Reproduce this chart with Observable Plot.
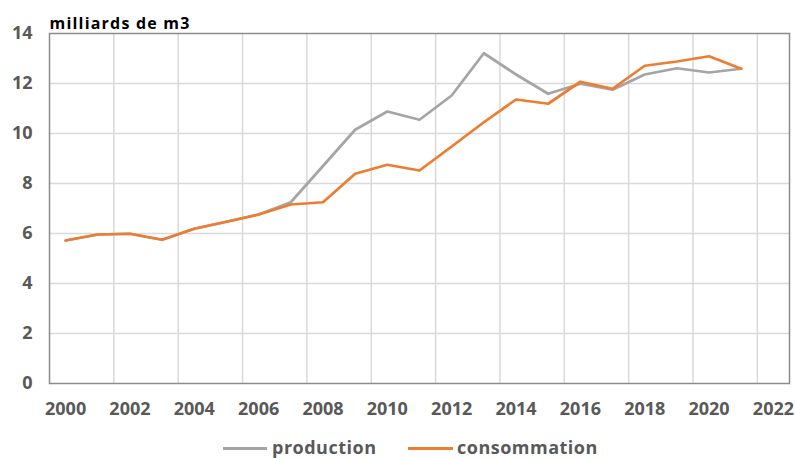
<!DOCTYPE html>
<html>
<head>
<meta charset="utf-8">
<script src="https://cdn.jsdelivr.net/npm/d3@7"></script>
<script src="https://cdn.jsdelivr.net/npm/@observablehq/plot@0.6"></script>
<style>
  html, body { margin: 0; padding: 0; background: #fff; }
  #wrap { position: relative; width: 795px; height: 458px; font-family: "Open Sans", sans-serif; }
  .sw { position: absolute; height: 3px; }
  .lt { position: absolute; font-size: 18px; font-weight: 700; letter-spacing: 0.5px; color: #595959; line-height: 20px; }
</style>
</head>
<body>
<div id="wrap">
  <div id="chart"></div>
  <div class="sw" style="left:223px; top:447px; width:44px; background:#A5A5A5;"></div>
  <div class="lt" style="left:272px; top:437px;">production</div>
  <div class="sw" style="left:408px; top:447px; width:45px; background:#ED7D31;"></div>
  <div class="lt" style="left:457px; top:437px;">consommation</div>
</div>
<script>
const years = [2000, 2001, 2002, 2003, 2004, 2005, 2006, 2007, 2008, 2009, 2010,
               2011, 2012, 2013, 2014, 2015, 2016, 2017, 2018, 2019, 2020, 2021];
const production = [5.72, 5.96, 5.99, 5.75, 6.19, 6.47, 6.76, 7.25, 8.70, 10.15, 10.88,
                    10.55, 11.52, 13.21, 12.36, 11.59, 11.99, 11.75, 12.36, 12.61, 12.44, 12.59];
const consommation = [5.72, 5.96, 5.99, 5.75, 6.19, 6.47, 6.76, 7.16, 7.25, 8.39, 8.75,
                      8.52, 9.48, 10.45, 11.36, 11.19, 12.07, 11.79, 12.71, 12.88, 13.09, 12.59];
const xTicks = [2000, 2002, 2004, 2006, 2008, 2010, 2012, 2014, 2016, 2018, 2020, 2022];
const yTicks = [0, 2, 4, 6, 8, 10, 12, 14];
const seriesNames = ["production", "consommation"];
const unitLabel = "milliards de m3";

const xGrid = xTicks.map(t => t + 1.5).filter(v => v < 2022.5);
const prodData = years.map((year, i) => ({year, value: production[i]}));
const consData = years.map((year, i) => ({year, value: consommation[i]}));

const chart = Plot.plot({
  width: 795,
  height: 420,
  marginLeft: 49,
  marginRight: 6,
  marginTop: 33,
  marginBottom: 37,
  style: {fontFamily: "'Open Sans', sans-serif", fontSize: "18px", fontWeight: 700, color: "#595959", background: "#fff"},
  x: {domain: [1999.5, 2022.5], label: null},
  y: {domain: [0, 14], label: null},
  marks: [
    Plot.ruleY(yTicks.filter(v => v > 0 && v < 14), {stroke: "#d9d9d9", strokeWidth: 1.5}),
    Plot.ruleX(xGrid, {stroke: "#d9d9d9", strokeWidth: 1.5}),
    Plot.frame({stroke: "#8c8c8c", strokeWidth: 1.5}),
    Plot.axisX(xTicks, {tickSize: 0, tickPadding: 19, tickFormat: d => String(d), fill: "#595959"}),
    Plot.axisY(yTicks, {tickSize: 0, tickPadding: 17, fill: "#595959"}),
    Plot.line(prodData, {x: "year", y: "value", stroke: "#A5A5A5", strokeWidth: 2.75, strokeLinejoin: "round"}),
    Plot.line(consData, {x: "year", y: "value", stroke: "#ED7D31", strokeWidth: 2.75, strokeLinejoin: "round"}),
    Plot.text([unitLabel], {frameAnchor: "top-left", textAnchor: "start", lineAnchor: "bottom", dy: -5, fontSize: 16, fontWeight: "bold", fill: "#000", style: "letter-spacing:1.2px"})
  ]
});
chart.querySelectorAll("text").forEach(t => { if (t.textContent === unitLabel) t.setAttribute("letter-spacing", "1.2"); });
document.getElementById("chart").appendChild(chart);
</script>
</body>
</html>
